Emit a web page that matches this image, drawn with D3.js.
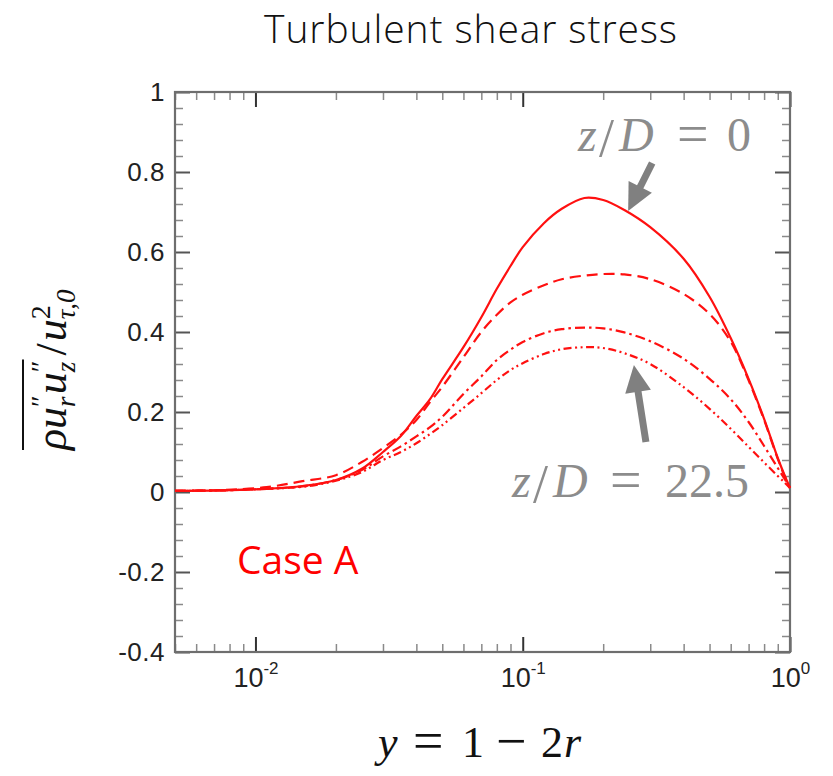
<!DOCTYPE html>
<html>
<head>
<meta charset="utf-8">
<script src="https://cdn.jsdelivr.net/npm/d3@7/dist/d3.min.js"></script>
<style>
  html, body { margin: 0; padding: 0; background: #fff; }
  svg { display: block; }
</style>
</head>
<body>
<svg id="chart" width="833" height="776"></svg>
<script>
// ---------------- DATA ----------------
const xVals = [0.005, 0.0075, 0.011, 0.015, 0.02, 0.025, 0.03, 0.035, 0.04, 0.045, 0.05, 0.06, 0.07, 0.08, 0.09, 0.1, 0.12, 0.14, 0.17, 0.2, 0.24, 0.3, 0.4, 0.5, 0.6, 0.7, 0.8, 0.9, 0.95, 1.0];
// z/D = 0 (solid)
const stressZ0 = [0.003, 0.004, 0.008, 0.015, 0.030, 0.058, 0.100, 0.140, 0.190, 0.232, 0.282, 0.362, 0.437, 0.508, 0.565, 0.612, 0.672, 0.708, 0.735, 0.730, 0.705, 0.662, 0.583, 0.488, 0.385, 0.283, 0.183, 0.085, 0.045, 0.010];
// intermediate (dashed)
const stressZ1 = [0.003, 0.005, 0.012, 0.027, 0.042, 0.075, 0.110, 0.143, 0.180, 0.225, 0.263, 0.337, 0.400, 0.443, 0.474, 0.493, 0.517, 0.532, 0.541, 0.545, 0.544, 0.532, 0.495, 0.445, 0.376, 0.279, 0.180, 0.083, 0.043, 0.010];
// intermediate (dash-dot)
const stressZ2 = [0.003, 0.004, 0.008, 0.014, 0.030, 0.055, 0.089, 0.114, 0.139, 0.162, 0.188, 0.245, 0.289, 0.330, 0.356, 0.375, 0.397, 0.407, 0.411, 0.409, 0.399, 0.377, 0.333, 0.283, 0.232, 0.175, 0.115, 0.060, 0.035, 0.010];
// z/D = 22.5 (dash-dot-dot)
const stressZ3 = [0.003, 0.004, 0.008, 0.013, 0.028, 0.050, 0.080, 0.100, 0.122, 0.145, 0.167, 0.210, 0.247, 0.280, 0.305, 0.322, 0.345, 0.357, 0.362, 0.360, 0.347, 0.320, 0.262, 0.208, 0.158, 0.113, 0.074, 0.040, 0.025, 0.010];

const seriesList = [stressZ0, stressZ1, stressZ2, stressZ3];
const seriesDash = [null, "11,6", "10,4,2.5,4", "8,3.5,2,3.5,2,3.5"];

const xDomain = [0.005, 1];
const yDomain = [-0.4, 1];
const xMajorTicks = [0.01, 0.1, 1];
const xMajorLabels = ["-2", "-1", "0"];
const yMajorTicks = [-0.4, -0.2, 0, 0.2, 0.4, 0.6, 0.8, 1];
const yMajorLabels = ["-0.4", "-0.2", "0", "0.2", "0.4", "0.6", "0.8", "1"];

const titleText = "Turbulent shear stress";
const caseText = "Case A";

// ---------------- LAYOUT ----------------
const svg = d3.select("#chart");
const L = 175, R = 790, T = 92, B = 652;

const x = d3.scaleLog().domain(xDomain).range([L, R]);
const y = d3.scaleLinear().domain(yDomain).range([B, T]);

const axisColor = "#6e6e6e";

// minor ticks
const xMinor = [];
for (let e = -3; e <= 0; e++) for (let m = 2; m <= 9; m++) {
  const v = m * Math.pow(10, e);
  if (v >= xDomain[0] && v <= xDomain[1]) xMinor.push(v);
}
const yMinor = d3.range(0, 36).map(i => +(-0.4 + i * 0.04).toFixed(2))
  .filter(v => v <= 1 && !yMajorTicks.some(t => Math.abs(t - v) < 1e-6));

function styleAxis(g, w, col) {
  g.select(".domain").remove();
  g.selectAll(".tick line").attr("stroke", col).attr("stroke-width", w);
}

// bottom
svg.append("g").attr("transform", `translate(0,${B})`)
  .call(d3.axisBottom(x).tickValues(xMinor).tickSize(-8).tickFormat(""))
  .call(g => styleAxis(g, 1.5, "#8a8a8a"));
const xb = svg.append("g").attr("transform", `translate(0,${B})`)
  .call(d3.axisBottom(x).tickValues(xMajorTicks).tickSize(-15).tickPadding(14).tickFormat(""))
  .call(g => styleAxis(g, 2, "#333"));
xb.selectAll(".tick text").remove();
xb.selectAll(".tick").each(function(d, i) {
  const t = d3.select(this).append("text")
    .attr("y", 35).attr("fill", "#222")
    .attr("font-family", "Liberation Sans, Arial, sans-serif")
    .attr("font-size", 27).attr("text-anchor", "middle");
  t.append("tspan").text("10");
  t.append("tspan").attr("font-size", 17).attr("dy", -13).text(xMajorLabels[i]);
});
// top
svg.append("g").attr("transform", `translate(0,${T})`)
  .call(d3.axisTop(x).tickValues(xMinor).tickSize(-8).tickFormat(""))
  .call(g => styleAxis(g, 1.5, "#8a8a8a"));
svg.append("g").attr("transform", `translate(0,${T})`)
  .call(d3.axisTop(x).tickValues(xMajorTicks).tickSize(-15).tickFormat(""))
  .call(g => styleAxis(g, 2, "#333"));
// left
svg.append("g").attr("transform", `translate(${L},0)`)
  .call(d3.axisLeft(y).tickValues(yMinor).tickSize(-8).tickFormat(""))
  .call(g => styleAxis(g, 1.5, "#8a8a8a"));
const yl = svg.append("g").attr("transform", `translate(${L},0)`)
  .call(d3.axisLeft(y).tickValues(yMajorTicks).tickSize(-15).tickPadding(10)
    .tickFormat((d, i) => yMajorLabels[i]))
  .call(g => styleAxis(g, 2, "#555"));
yl.selectAll(".tick text")
  .attr("fill", "#222")
  .attr("font-family", "Liberation Sans, Arial, sans-serif")
  .attr("font-size", 26).attr("letter-spacing", 0.5);
// right
svg.append("g").attr("transform", `translate(${R},0)`)
  .call(d3.axisRight(y).tickValues(yMinor).tickSize(-8).tickFormat(""))
  .call(g => styleAxis(g, 1.5, "#8a8a8a"));
svg.append("g").attr("transform", `translate(${R},0)`)
  .call(d3.axisRight(y).tickValues(yMajorTicks).tickSize(-15).tickFormat(""))
  .call(g => styleAxis(g, 2, "#555"));

// frame
svg.append("rect").attr("x", L).attr("y", T).attr("width", R - L).attr("height", B - T)
  .attr("fill", "none").attr("stroke", axisColor).attr("stroke-width", 2.2);

// ---------------- LINES ----------------
const line = d3.line().x(d => x(d[0])).y(d => y(d[1])).curve(d3.curveCatmullRom.alpha(0.5));
seriesList.forEach((vals, i) => {
  const pts = xVals.map((xv, j) => [xv, vals[j]]);
  svg.append("path").datum(pts)
    .attr("d", line)
    .attr("fill", "none")
    .attr("stroke", "#ff1010")
    .attr("stroke-width", 2.2)
    .attr("stroke-dasharray", seriesDash[i]);
});

// ---------------- ARROWS ----------------
const arrows = [
  { from: [0.305, 0.8225], to: [0.248, 0.7025] },
  { from: [0.289, 0.125], to: [0.2606, 0.3175] }
];
arrows.forEach(a => {
  const x0 = x(a.from[0]), y0 = y(a.from[1]), x1 = x(a.to[0]), y1 = y(a.to[1]);
  const dx = x1 - x0, dy = y1 - y0, len = Math.hypot(dx, dy);
  const ux = dx / len, uy = dy / len, px = -uy, py = ux;
  const headL = 27, headW = 13;
  const bx = x1 - ux * headL, by = y1 - uy * headL;
  svg.append("line").attr("x1", x0).attr("y1", y0).attr("x2", bx + ux * 2).attr("y2", by + uy * 2)
    .attr("stroke", "#808080").attr("stroke-width", 7);
  svg.append("path")
    .attr("d", `M${x1},${y1}L${bx + px * headW},${by + py * headW}L${bx - px * headW},${by - py * headW}Z`)
    .attr("fill", "#808080");
});

// ---------------- TEXT ----------------
svg.append("text").attr("x", 471).attr("y", 43).attr("text-anchor", "middle")
  .attr("font-family", "Open Sans, sans-serif").attr("font-weight", 300)
  .attr("font-size", 39).attr("letter-spacing", 0.9).attr("fill", "#111").text(titleText);

svg.append("text").attr("x", 237).attr("y", 574)
  .attr("font-family", "Open Sans, sans-serif").attr("font-size", 39)
  .attr("fill", "#ff0000").text(caseText);

const serif = "Liberation Serif, Times New Roman, serif";
// annotation glyphs placed one by one (CM-like wide spacing)
// [text, x, italic, fontSize, dy]
function glyphs(list, yp, size, color) {
  const t = svg.append("text").attr("y", yp)
    .attr("font-family", serif).attr("font-size", size).attr("fill", color);
  list.forEach(g => t.append("tspan").attr("x", g[1]).attr("y", yp + (g[4] || 0))
    .attr("font-style", g[2] ? "italic" : "normal")
    .attr("font-size", g[3] || size).text(g[0]));
}
glyphs([["z", 578, 1], ["/", 599, 0, 54, 5], ["D", 619, 1], ["=", 677, 0, 56, 2], ["0", 727, 0]], 151, 48, "#8c8c8c");
glyphs([["z", 512, 1], ["/", 533, 0, 54, 5], ["D", 553, 1], ["=", 610, 0, 56, 2], ["22.5", 665, 0]], 497, 48, "#8c8c8c");
glyphs([["y", 378, 1], ["=", 413, 0, 54, 2], ["1", 462, 0], ["−", 496, 0, 54, 2], ["2", 541, 0], ["r", 564, 1]], 757, 44, "#111");

// y-axis label (rotated)
const gy = svg.append("g").attr("transform", "translate(66,450) rotate(-90)");
let cx = 0;
function piece(str, size, dy, italic, advance) {
  const t = gy.append("text").attr("x", cx).attr("y", dy)
    .attr("font-family", serif).attr("font-size", size)
    .attr("font-style", italic ? "italic" : "normal").attr("fill", "#111").text(str);
  const w = t.node().getComputedTextLength();
  if (advance) cx += w;
  return w;
}
function stack(sup, sub, supItalic) {
  const w1 = piece(sup, 28, -16, supItalic, false);
  const w2 = piece(sub, 27, 9, true, false);
  cx += Math.max(w1, w2) + 1;
}
piece("ρ", 44, 0, true, true);
piece("u", 44, 0, true, true);
stack("″", "r", false);
piece("u", 44, 0, true, true);
stack("″", "z", false);
const overEnd = cx;
gy.append("line").attr("x1", 0).attr("x2", overEnd).attr("y1", -43).attr("y2", -43)
  .attr("stroke", "#111").attr("stroke-width", 2);
cx += 4;
piece("/", 44, 0, false, true);
cx += 2;
piece("u", 44, 0, true, true);
stack("2", "τ,0", false);
</script>
</body>
</html>
